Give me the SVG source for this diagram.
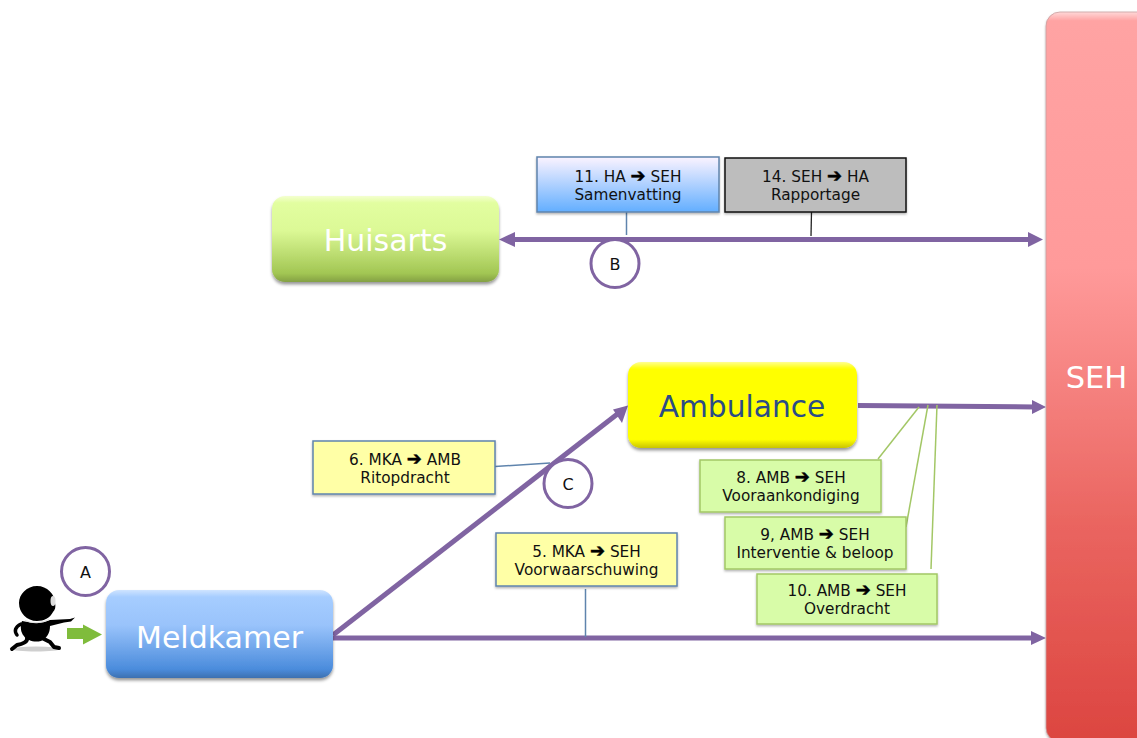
<svg xmlns="http://www.w3.org/2000/svg" width="1137" height="738" viewBox="0 0 1137 738">
<style>
text{font-family:"DejaVu Sans",Verdana,sans-serif;text-anchor:middle}
.lbl{font-size:15.300px;fill:#111}
.ar{font-weight:bold;font-size:18px;fill:#000;stroke:#000;stroke-width:.5}
.big{font-size:30px;fill:#fff}
.flow{stroke:#8064a2;stroke-width:5;fill:none}
.head{fill:#8064a2}
.lead{fill:none;stroke-width:1.3}
.badge{fill:#fff;stroke:#8064a2;stroke-width:3}
.badge-t{font-size:16px;fill:#111}
.blueedge{stroke:#5f84ad;stroke-width:1.5}
.greenedge{stroke:#a3c766;stroke-width:1.5}
.limb{fill:none;stroke:#000;stroke-linecap:round;stroke-linejoin:round}
</style>
<defs>
<filter id="sh" x="-10%" y="-10%" width="120%" height="125%"><feDropShadow dx="0" dy="2.5" stdDeviation="1.8" flood-color="#000" flood-opacity="0.4"/></filter>
<filter id="sm" x="-10%" y="-10%" width="120%" height="125%"><feDropShadow dx="0" dy="1.5" stdDeviation="1" flood-color="#000" flood-opacity="0.3"/></filter>
<linearGradient id="gSeh" x1="0" y1="0" x2="0" y2="1"><stop offset="0" stop-color="#ffd8d8"/><stop offset="0.012" stop-color="#ffa3a3"/><stop offset="0.35" stop-color="#ff9a9a"/><stop offset="0.7" stop-color="#ea6560"/><stop offset="1" stop-color="#dc4540"/></linearGradient>
<linearGradient id="gHa" x1="0" y1="0" x2="0" y2="1"><stop offset="0" stop-color="#f4ffd0"/><stop offset="0.08" stop-color="#e2fea0"/><stop offset="0.4" stop-color="#dcf996"/><stop offset="0.9" stop-color="#a2c653"/><stop offset="1" stop-color="#84a044"/></linearGradient>
<linearGradient id="gMk" x1="0" y1="0" x2="0" y2="1"><stop offset="0" stop-color="#cfe4ff"/><stop offset="0.08" stop-color="#a6cdff"/><stop offset="0.4" stop-color="#99c3fb"/><stop offset="0.9" stop-color="#4b8cdc"/><stop offset="1" stop-color="#3d70b0"/></linearGradient>
<linearGradient id="gAm" x1="0" y1="0" x2="0" y2="1"><stop offset="0" stop-color="#ffff90"/><stop offset="0.08" stop-color="#ffff00"/><stop offset="0.9" stop-color="#ffff00"/><stop offset="1" stop-color="#c9c400"/></linearGradient>
<linearGradient id="g11" x1="0" y1="0" x2="0" y2="1"><stop offset="0" stop-color="#fbf3ff"/><stop offset="1" stop-color="#62aeff"/></linearGradient>
</defs>

<g id="connectors">
<path class="flow" d="M510 239.500H1032"/>
<path class="head" d="M499 239.500L515 232V247Z"/>
<path class="head" d="M1043 239.500L1028 232V247Z"/>
<path class="flow" d="M858 405.500L1035 407"/>
<path class="head" d="M1046 407L1032 400V414Z"/>
<path class="flow" d="M333 638H1035"/>
<path class="head" d="M1046 638L1031 631V645Z"/>
<path class="flow" d="M333 635L620 412"/>
<path class="head" d="M628 405.500L613 409.500L622 423Z"/>
<path class="lead blueedge" d="M626.500 212V235"/>
<path class="lead" stroke="#222" d="M811.500 212L811 236"/>
<path class="lead blueedge" d="M495 466.500L550 463"/>
<path class="lead blueedge" d="M585.500 589V637"/>
<path class="lead greenedge" d="M878 459L919 407"/>
<path class="lead greenedge" d="M906 527L928 405"/>
<path class="lead greenedge" d="M931 569L937 405"/>
<path d="M67 628H83V624.500L102 634.500L83 644.500V639H67Z" fill="#7fbc3c"/>
</g>

<g id="seh">
<rect x="1046" y="12" width="120" height="730" rx="14" fill="url(#gSeh)" stroke="#c9a0a0" stroke-width="0.8" filter="url(#sm)"/>
<text class="big" x="1096.500" y="388" style="font-size:30.500px">SEH</text>
</g>

<g id="huisarts">
<rect x="272" y="196" width="227" height="86" rx="13" fill="url(#gHa)" filter="url(#sh)"/>
<text class="big" x="385.500" y="250.500">Huisarts</text>
</g>

<g id="meldkamer">
<rect x="106" y="590" width="227" height="88" rx="13" fill="url(#gMk)" filter="url(#sh)"/>
<text class="big" x="219.500" y="647.500">Meldkamer</text>
</g>

<g id="ambulance">
<rect x="628" y="362" width="229" height="86" rx="13" fill="url(#gAm)" filter="url(#sh)"/>
<text class="big" x="742" y="417" style="fill:#2b4c86;font-size:29.700px">Ambulance</text>
</g>

<g id="box11">
<rect x="537" y="157" width="182" height="55" fill="url(#g11)" stroke="#5f84ad" stroke-width="1.500" filter="url(#sm)"/>
<text class="lbl" x="628" y="182">11. HA <tspan class="ar">➔</tspan> SEH</text>
<text class="lbl" x="628" y="200">Samenvatting</text>
</g>

<g id="box14">
<rect x="725" y="158" width="181" height="54" fill="#bdbdbd" stroke="#111" stroke-width="1.500" filter="url(#sm)"/>
<text class="lbl" x="815.500" y="182">14. SEH <tspan class="ar">➔</tspan> HA</text>
<text class="lbl" x="815.500" y="200">Rapportage</text>
</g>

<g id="box6">
<rect x="313" y="441" width="182" height="53" fill="#ffffa6" stroke="#5f84ad" stroke-width="1.500" filter="url(#sm)"/>
<text class="lbl" x="405" y="465">6. MKA <tspan class="ar">➔</tspan> AMB</text>
<text class="lbl" x="405" y="483">Ritopdracht</text>
</g>

<g id="box5">
<rect x="496" y="533" width="181" height="53" fill="#ffffa6" stroke="#5f84ad" stroke-width="1.500" filter="url(#sm)"/>
<text class="lbl" x="586.500" y="557">5. MKA <tspan class="ar">➔</tspan> SEH</text>
<text class="lbl" x="586.500" y="575">Voorwaarschuwing</text>
</g>

<g id="box8">
<rect x="700" y="460" width="181" height="52" fill="#d8fca8" stroke="#a3c766" stroke-width="1.500" filter="url(#sm)"/>
<text class="lbl" x="791" y="483">8. AMB <tspan class="ar">➔</tspan> SEH</text>
<text class="lbl" x="791" y="501">Vooraankondiging</text>
</g>

<g id="box9">
<rect x="725" y="517" width="181" height="52" fill="#d8fca8" stroke="#a3c766" stroke-width="1.500" filter="url(#sm)"/>
<text class="lbl" x="815" y="540">9, AMB <tspan class="ar">➔</tspan> SEH</text>
<text class="lbl" x="815" y="558">Interventie &amp; beloop</text>
</g>

<g id="box10">
<rect x="757" y="574" width="180" height="50" fill="#d8fca8" stroke="#a3c766" stroke-width="1.500" filter="url(#sm)"/>
<text class="lbl" x="847" y="596">10. AMB <tspan class="ar">➔</tspan> SEH</text>
<text class="lbl" x="847" y="614">Overdracht</text>
</g>

<g id="badgeA"><circle class="badge" cx="85.500" cy="571.500" r="24"/><text class="badge-t" x="85.500" y="577.500">A</text></g>
<g id="badgeB"><circle class="badge" cx="615" cy="263.500" r="24"/><text class="badge-t" x="615" y="269.500">B</text></g>
<g id="badgeC"><circle class="badge" cx="568" cy="483.500" r="24"/><text class="badge-t" x="568" y="489.500">C</text></g>

<g id="figure">
<ellipse cx="36" cy="649" rx="24" ry="2.500" fill="#cfcfcf"/>
<path d="M37 586C47 586 55 594 55 603C56 607 55 610 53 612C50 618 44 621 37 621C27 621 19 613 19 603C19 594 27 586 37 586Z" fill="#000"/>
<ellipse cx="53" cy="601" rx="2.500" ry="5" fill="#ddd"/>
<path d="M22 621C28 622 40 625 50 620L70 619L75 617.500L71 621.500L64 622.500L50 626C50 633 47 638 41 641C29 644 17 635 22 621Z" fill="#000"/>
<path class="limb" stroke-width="3.500" d="M21 624C15 627 14 631 17 635"/>
<path class="limb" stroke-width="4" d="M40 637L50 642L54 647L59 648"/>
<path class="limb" stroke-width="4" d="M27 638C28 642 22 644 17 645L12 649"/>
<path d="M25 620.500C32 623.500 42 623.500 49 619.500" fill="none" stroke="#e2e2e2" stroke-width="1.300"/>
</g>
</svg>
